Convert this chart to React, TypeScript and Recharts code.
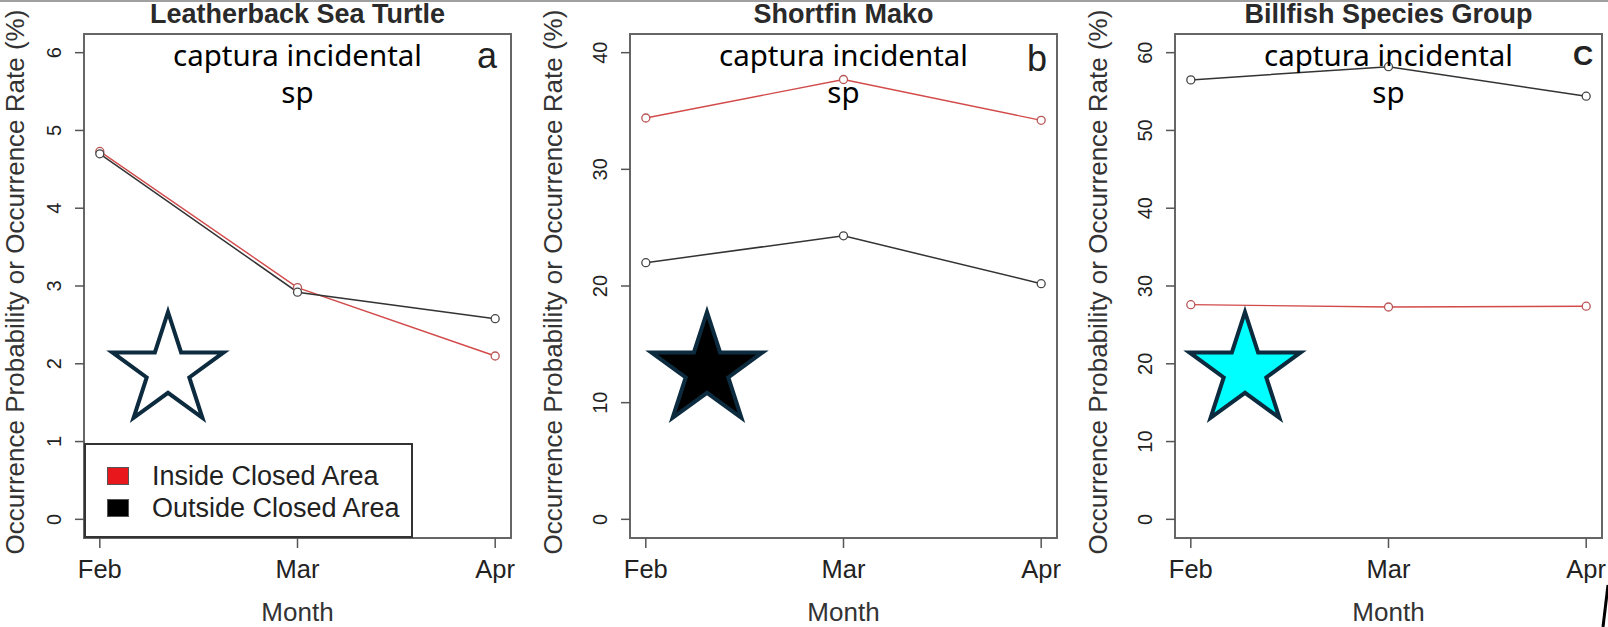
import React from "react";
import { LineChart, Line, XAxis, YAxis, ReferenceArea, Legend } from "recharts";

// ---------------------- DATA ----------------------
const months = ["Feb", "Mar", "Apr"];
const monthPos = [1, 2, 3];

const turtleInside = [4.73, 2.98, 2.1];
const turtleOutside = [4.7, 2.92, 2.58];
const makoInside = [34.4, 37.7, 34.2];
const makoOutside = [22.0, 24.3, 20.2];
const billfishInside = [27.6, 27.3, 27.4];
const billfishOutside = [56.5, 58.2, 54.4];

const turtleTicks = [0, 1, 2, 3, 4, 5, 6];
const makoTicks = [0, 10, 20, 30, 40];
const billfishTicks = [0, 10, 20, 30, 40, 50, 60];

const seriesNames = { inside: "Inside Closed Area", outside: "Outside Closed Area" };
const yLabel = "Occurrence Probability or Occurrence Rate (%)";

const SANS = '"Liberation Sans", Arial, Helvetica, sans-serif';
const RED = "#d24a4a";
const DARK = "#333";
const LEGEND_FILL: Record<string, string> = { inside: "#e8171b", outside: "#000" };

const W = 1608;
const H = 627;
const PLOT_TOP = 34;
const PLOT_BOTTOM = 538;
const AXIS_W = 60;
const AXIS_H = 60;

const rows = (inside: number[], outside: number[]) =>
  monthPos.map((m, i) => ({ m, inside: inside[i], outside: outside[i] }));

const panels = [
  {
    id: "a",
    title: "Leatherback Sea Turtle",
    letter: "a",
    letterX: 487,
    letterY: 68,
    chartLeft: 0,
    chartWidth: 540,
    plotLeft: 84,
    plotRight: 511,
    labelX: 24,
    ticks: turtleTicks,
    data: rows(turtleInside, turtleOutside),
    legend: true,
    star: { cx: 168, fill: "#ffffff" },
  },
  {
    id: "b",
    title: "Shortfin Mako",
    letter: "b",
    letterX: 1037,
    letterY: 71,
    chartLeft: 540,
    chartWidth: 540,
    plotLeft: 630,
    plotRight: 1057,
    labelX: 562,
    ticks: makoTicks,
    data: rows(makoInside, makoOutside),
    legend: false,
    star: { cx: 707, fill: "#000000" },
  },
  {
    id: "c",
    title: "Billfish Species Group",
    letter: "C",
    letterX: 1583,
    letterY: 65,
    chartLeft: 1080,
    chartWidth: 528,
    plotLeft: 1175,
    plotRight: 1602,
    labelX: 1107,
    ticks: billfishTicks,
    data: rows(billfishInside, billfishOutside),
    legend: false,
    star: { cx: 1245, fill: "#00ffff" },
  },
];

// R-style 4% padding around the data range
const padDomain = (lo: number, hi: number): [number, number] => {
  const p = (hi - lo) * 0.04;
  return [lo - p, hi + p];
};

const YTick = (props: any) => {
  const { x, y, payload } = props;
  return (
    <text
      x={x}
      y={y}
      transform={`rotate(-90 ${x} ${y})`}
      textAnchor="middle"
      fontSize={20}
      fontFamily={SANS}
      fill="#222"
    >
      {payload.value}
    </text>
  );
};

const LegendBox = (props: any) => {
  const payload = props.payload || [];
  return (
    <div
      style={{
        width: 329,
        height: 95,
        border: "2px solid #333",
        boxSizing: "border-box",
        background: "#fff",
        fontFamily: SANS,
        fontSize: 27,
        color: "#222",
        paddingTop: 15,
      }}
    >
      {payload.map((entry: any) => (
        <div
          key={entry.value}
          style={{ display: "flex", alignItems: "center", height: 32, lineHeight: "32px" }}
        >
          <span
            style={{
              display: "inline-block",
              width: 22,
              height: 18,
              marginLeft: 21,
              marginRight: 23,
              background: LEGEND_FILL[entry.dataKey] || entry.color,
              border: "1px solid #555",
              boxSizing: "border-box",
            }}
          />
          <span>{entry.value}</span>
        </div>
      ))}
    </div>
  );
};

const starPoints = (cx: number, top: number, r: number) => {
  const cy = top + r;
  const inner = r * 0.382;
  const pts: string[] = [];
  for (let i = 0; i < 10; i++) {
    const rad = i % 2 === 0 ? r : inner;
    const a = (Math.PI / 5) * i - Math.PI / 2;
    pts.push(`${(cx + rad * Math.cos(a)).toFixed(1)},${(cy + rad * Math.sin(a)).toFixed(1)}`);
  }
  return pts.join(" ");
};

function Panel({ p }: { p: (typeof panels)[number] }) {
  const yDomain = padDomain(p.ticks[0], p.ticks[p.ticks.length - 1]);
  const xDomain = padDomain(1, 3);
  const margin = {
    top: PLOT_TOP,
    bottom: H - PLOT_BOTTOM - AXIS_H,
    left: p.plotLeft - p.chartLeft - AXIS_W,
    right: p.chartLeft + p.chartWidth - p.plotRight,
  };
  return (
    <div style={{ position: "absolute", left: p.chartLeft, top: 0 }}>
      <LineChart width={p.chartWidth} height={H} data={p.data} margin={margin}>
        <XAxis
          dataKey="m"
          type="number"
          domain={xDomain}
          ticks={monthPos}
          tickFormatter={(v: number) => months[v - 1]}
          allowDataOverflow
          axisLine={false}
          tickLine={{ stroke: "#555", strokeWidth: 1.5 }}
          tickSize={10}
          tickMargin={12}
          height={AXIS_H}
          tick={{ fontSize: 25.5, fontFamily: SANS, fill: "#222" }}
          interval={0}
        />
        <YAxis
          type="number"
          domain={yDomain}
          ticks={p.ticks}
          allowDataOverflow
          axisLine={false}
          tickLine={{ stroke: "#555", strokeWidth: 1.5 }}
          tickSize={9}
          tickMargin={14}
          width={AXIS_W}
          tick={<YTick />}
          interval={0}
        />
        <ReferenceArea
          x1={xDomain[0]}
          x2={xDomain[1]}
          y1={yDomain[0]}
          y2={yDomain[1]}
          fill="none"
          stroke="#666"
          strokeWidth={2}
          ifOverflow="visible"
        />
        <Line
          dataKey="inside"
          name={seriesNames.inside}
          stroke={RED}
          strokeWidth={1.4}
          dot={{ r: 4, fill: "#fff", stroke: "#b85555", strokeWidth: 1.3 }}
          isAnimationActive={false}
        />
        <Line
          dataKey="outside"
          name={seriesNames.outside}
          stroke={DARK}
          strokeWidth={1.5}
          dot={{ r: 4, fill: "#fff", stroke: "#444", strokeWidth: 1.3 }}
          isAnimationActive={false}
        />
        {p.legend && (
          <Legend
            layout="horizontal"
            verticalAlign="middle"
            align="center"
            content={<LegendBox />}
            wrapperStyle={{
              left: p.plotLeft - p.chartLeft,
              top: 443,
              width: 329,
              height: 95,
            }}
          />
        )}
      </LineChart>
    </div>
  );
}

export default function App() {
  return (
    <div
      style={{
        position: "absolute",
        left: 0,
        top: 0,
        width: W,
        height: H,
        background: "#fff",
        overflow: "hidden",
      }}
    >
      {panels.map((p) => (
        <Panel key={p.id} p={p} />
      ))}
      <svg
        width={W}
        height={H}
        style={{ position: "absolute", left: 0, top: 0, pointerEvents: "none" }}
      >
        <line x1={0} y1={1} x2={W} y2={1} stroke="#a0a0a0" strokeWidth={2} />
        {panels.map((p) => {
          const cx = (p.plotLeft + p.plotRight) / 2;
          const cy = (PLOT_TOP + PLOT_BOTTOM) / 2;
          const lx = p.labelX;
          return (
            <g key={p.id}>
              <text
                x={cx}
                y={23}
                textAnchor="middle"
                fontFamily={SANS}
                fontWeight="bold"
                fontSize={27}
                fill="#2a2a2a"
              >
                {p.title}
              </text>
              <text
                x={lx}
                y={cy - 4}
                transform={`rotate(-90 ${lx} ${cy - 4})`}
                textAnchor="middle"
                fontFamily={SANS}
                fontSize={26}
                fill="#333"
              >
                {yLabel}
              </text>
              <text x={cx} y={621} textAnchor="middle" fontFamily={SANS} fontSize={26} fill="#333">
                Month
              </text>
              <text
                x={cx}
                y={66}
                textAnchor="middle"
                fontFamily='"Noto Sans", sans-serif'
                fontSize={29.5}
                fill="#000"
              >
                captura incidental
              </text>
              <text
                x={cx}
                y={103}
                textAnchor="middle"
                fontFamily='"Noto Sans", sans-serif'
                fontSize={29.5}
                fill="#000"
              >
                sp
              </text>
              <text
                x={p.letterX}
                y={p.letterY}
                textAnchor="middle"
                fontFamily={SANS}
                fontWeight={p.letter === "C" ? "bold" : "normal"}
                fontSize={p.letter === "C" ? 28 : 36}
                fill="#222"
              >
                {p.letter}
              </text>
              <polygon
                points={starPoints(p.star.cx, 312, 58.5)}
                fill={p.star.fill}
                stroke="#0d2b3e"
                strokeWidth={4}
                strokeLinejoin="miter"
              />
            </g>
          );
        })}
        <line x1={1608} y1={585} x2={1603} y2={627} stroke="#000" strokeWidth={3} />
      </svg>
    </div>
  );
}
